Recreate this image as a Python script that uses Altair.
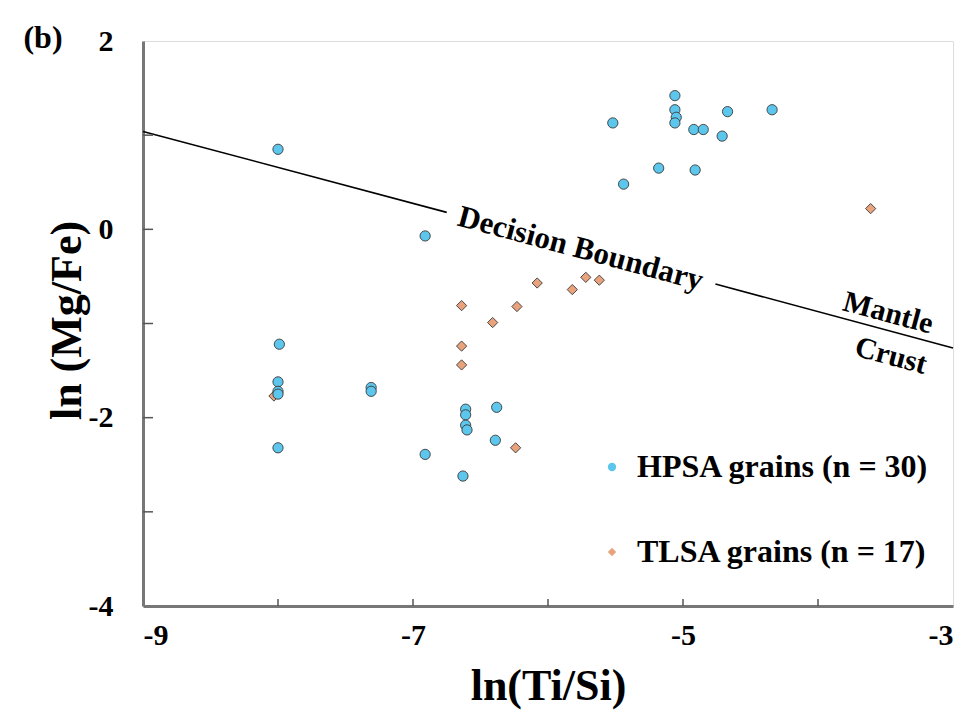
import altair as alt
import pandas as pd

# ---- data ----
hpsa_x = [-8.00, -6.91, -5.06, -5.06, -5.05, -5.06, -5.52, -4.92, -4.85, -4.67,
          -4.34, -4.71, -5.18, -4.91, -5.44, -7.99, -8.00, -8.00, -8.00, -7.31,
          -7.31, -6.61, -6.61, -6.61, -6.60, -6.38, -6.39, -8.00, -6.91, -6.63]
hpsa_y = [0.85, -0.07, 1.42, 1.27, 1.19, 1.13, 1.13, 1.06, 1.06, 1.25,
          1.27, 0.99, 0.65, 0.63, 0.48, -1.22, -1.62, -1.72, -1.75, -1.68,
          -1.72, -1.91, -1.97, -2.08, -2.13, -1.89, -2.24, -2.32, -2.39, -2.62]

tlsa_x = [-6.08, -6.64, -6.23, -6.41, -3.61, -5.72, -5.62, -5.82, -6.64, -6.64, -6.24, -8.03]
tlsa_y = [-0.57, -0.81, -0.82, -0.99, 0.22, -0.51, -0.54, -0.64, -1.24, -1.44, -2.32, -1.77]

group_names = ["HPSA grains (n = 30)", "TLSA grains (n = 17)"]

boundary_x = [-9.0, -6.75, -4.76, -3.0]
boundary_y = [1.04, 0.18, -0.58, -1.26]
boundary_seg = [0, 0, 1, 1]

note_text = ["Decision Boundary", "Mantle", "Crust"]
note_x = [-5.76, -3.48, -3.46]
note_y = [-0.21, -0.89, -1.345]
note_size = [31, 30, 30]

x_ticks = [-8, -7, -6, -5, -4]
y_ticks = [-3, -2, -1, 0, 1]

# ---- tables ----
pts = pd.DataFrame({
    "x": tlsa_x + hpsa_x,
    "y": tlsa_y + hpsa_y,
    "group": [group_names[1]] * len(tlsa_x) + [group_names[0]] * len(hpsa_x),
    "o": [0] * len(tlsa_x) + [1] * len(hpsa_x),
})
line_df = pd.DataFrame({"x": boundary_x, "y": boundary_y, "seg": boundary_seg})
notes = pd.DataFrame({"t": note_text, "x": note_x, "y": note_y, "s": note_size})

W, H = 810, 565
FONT = "Liberation Serif"

xs = alt.Scale(domain=[-9, -3], nice=False, zero=False)
ys = alt.Scale(domain=[-4, 2], nice=False, zero=False)

x_axis = alt.Axis(values=[-9, -7, -5, -3], ticks=False, grid=False,
                  labelExpr="toString(datum.value)",
                  labelFont=FONT, labelFontWeight="bold", labelFontSize=30,
                  labelColor="black", labelPadding=14,
                  title="ln(Ti/Si)", titleFont=FONT, titleFontWeight="bold",
                  titleFontSize=44, titleColor="black", titleX=405, titleY=80,
                  titleBaseline="middle", titleAlign="center",
                  domainColor="#777", domainWidth=3)
y_axis = alt.Axis(values=[-4, -2, 0, 2], ticks=False, grid=False,
                  labelExpr="toString(datum.value)",
                  labelFont=FONT, labelFontWeight="bold", labelFontSize=30,
                  labelColor="black", labelPadding=30,
                  title="ln (Mg/Fe)", titleFont=FONT, titleFontWeight="bold",
                  titleFontSize=44, titleColor="black", titleX=-76, titleY=279,
                  titleBaseline="middle", titleAlign="center", titleAngle=-90,
                  domainColor="#777", domainWidth=3)

base_line = alt.Chart(line_df).mark_line(color="black", strokeWidth=1.6).encode(
    x=alt.X("x:Q", scale=xs, axis=x_axis),
    y=alt.Y("y:Q", scale=ys, axis=y_axis),
    detail="seg:N",
)

legend = alt.Legend(title=None, orient="none", legendX=453, legendY=410,
                    labelFont=FONT, labelFontWeight="bold",
                    labelFontSize=32, labelColor="black", labelLimit=500,
                    labelOffset=9, rowPadding=53, symbolSize=70,
                    symbolStrokeColor="#3a3a3a", symbolStrokeWidth=0.8)

points = alt.Chart(pts).mark_point(filled=True, stroke="#3a3a3a", strokeWidth=0.9,
                                   opacity=1, size=105).encode(
    x=alt.X("x:Q", scale=xs),
    y=alt.Y("y:Q", scale=ys),
    fill=alt.Fill("group:N", scale=alt.Scale(domain=group_names,
                                             range=["#5cc6ec", "#e8a27c"]),
                  legend=legend),
    shape=alt.Shape("group:N", scale=alt.Scale(domain=group_names,
                                               range=["circle", "diamond"]),
                    legend=legend),
    order=alt.Order("o:Q"),
)

note_layers = []
for i in range(len(note_text)):
    note_layers.append(
        alt.Chart(notes.iloc[[i]]).mark_text(font=FONT, fontWeight="bold",
                                             fontSize=note_size[i], angle=15,
                                             align="center", baseline="middle",
                                             color="black").encode(
            x=alt.X("x:Q", scale=xs), y=alt.Y("y:Q", scale=ys), text="t:N")
    )

xt = alt.Chart(pd.DataFrame({"x": x_ticks})).mark_rule(color="#555", strokeWidth=1.5).encode(
    x=alt.X("x:Q", scale=xs), y=alt.value(H), y2=alt.value(H - 7))
yt = alt.Chart(pd.DataFrame({"y": y_ticks})).mark_rule(color="#555", strokeWidth=1.5).encode(
    y=alt.Y("y:Q", scale=ys), x=alt.value(0), x2=alt.value(10))

panel = alt.Chart(pd.DataFrame({"t": ["(b)"]})).mark_text(
    font=FONT, fontWeight="bold", fontSize=32, align="center", baseline="middle",
    color="black").encode(x=alt.value(-100), y=alt.value(-3), text="t:N")

chart = alt.layer(base_line, xt, yt, *note_layers, points, panel).properties(
    width=W, height=H, autosize="none",
    padding={"left": 135, "top": 33, "right": 12, "bottom": 110},
).configure_view(stroke="#444", strokeWidth=1.5).configure(background="white")

chart.save("out.html", embed_options={"renderer": "svg", "actions": False})
